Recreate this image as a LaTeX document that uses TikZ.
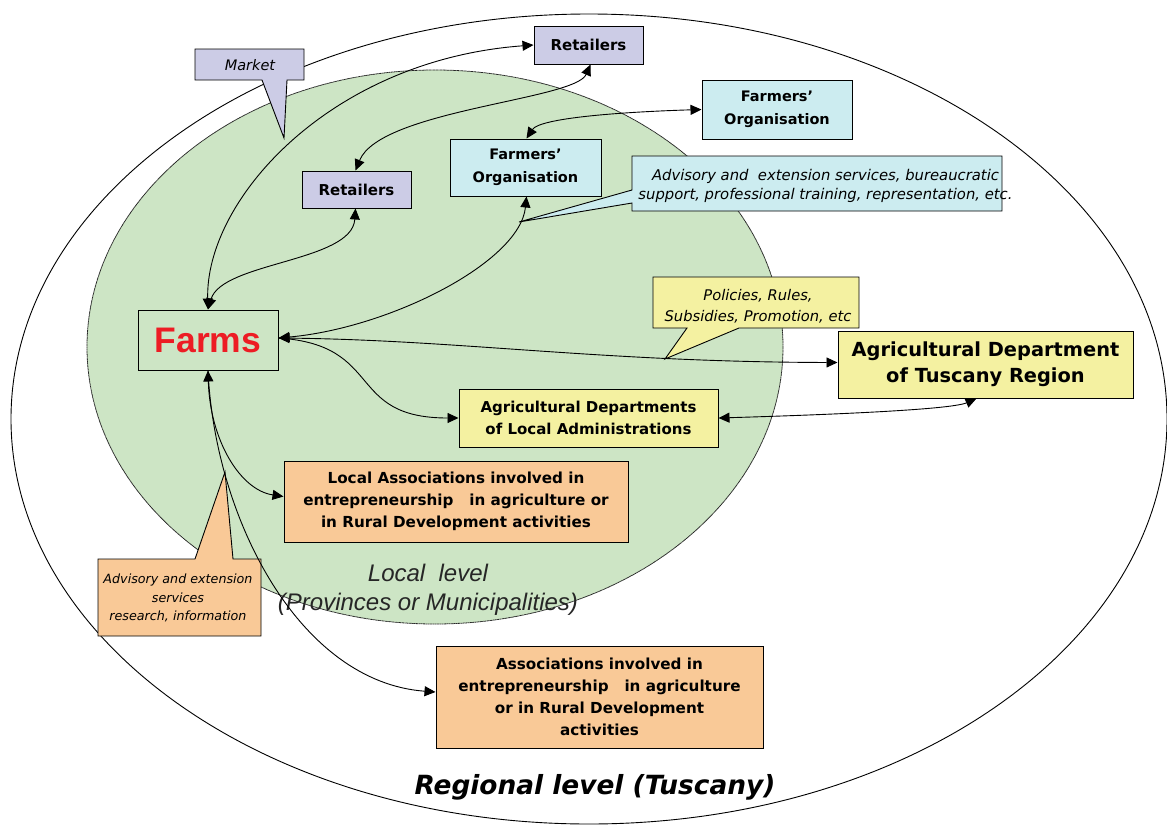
\documentclass[tikz,border=0pt]{standalone}
\usepackage{fontspec}
\setmainfont{DejaVu Sans}
\newfontfamily\arialfont{Liberation Sans}
\usetikzlibrary{arrows.meta}
\definecolor{lav}{RGB}{204,204,230}
\definecolor{cyanbox}{RGB}{204,236,240}
\definecolor{yel}{RGB}{244,241,161}
\definecolor{ora}{RGB}{249,201,151}
\definecolor{grn}{RGB}{205,229,197}
\definecolor{farmred}{RGB}{237,28,36}
\begin{document}
\begin{tikzpicture}[x=1pt,y=-1pt,
  box/.style={draw=black, line width=1pt, inner sep=0pt, align=center, font=\bfseries\fontsize{14.5}{23}\selectfont},
  callout/.style={draw=black, line width=0.9pt, line join=miter},
  ctext/.style={inner sep=0pt, align=center, font=\itshape\fontsize{14.8}{19.5}\selectfont},
  conn/.style={line width=0.9pt, >={Triangle[length=11pt,width=10pt]}}]
\useasboundingbox (0,0) rectangle (1167,827);
% ellipses
\draw[line width=0.9pt] (589,419) ellipse [x radius=578, y radius=405];
\fill[grn] (435,347) ellipse [x radius=348, y radius=277];
\draw[line width=0.8pt, black!85, dash pattern=on 1pt off 0.4pt] (435,347) ellipse [x radius=348, y radius=277];
% level labels
\node[font=\arialfont\itshape\fontsize{24}{29}\selectfont, align=center, text=black!85] (loclevel) at (428,590) {Local\ \ level\\(Provinces or Municipalities)};
\node[font=\bfseries\itshape\fontsize{26.4}{30}\selectfont] (reglevel) at (595,787) {Regional level (Tuscany)};
% boxes
\node[box, fill=lav, minimum width=109pt, minimum height=38pt, font=\bfseries\fontsize{15}{18}\selectfont] (ret1) at (588.5,45) {Retailers};
\node[box, fill=lav, minimum width=109pt, minimum height=37pt, font=\bfseries\fontsize{15}{18}\selectfont] (ret2) at (356.5,189.5) {Retailers};
\node[box, fill=cyanbox, minimum width=150pt, minimum height=59pt] (fo1) at (777,109.5) {Farmers’\\Organisation};
\node[box, fill=cyanbox, minimum width=151pt, minimum height=57pt] (fo2) at (525.5,167.5) {Farmers’\\Organisation};
\node[box, minimum width=140pt, minimum height=60pt, font=\arialfont\bfseries\fontsize{35.5}{40}\selectfont, text=farmred] (farms) at (208,340) {Farms};
\node[box, fill=yel, minimum width=295pt, minimum height=67pt, font=\bfseries\fontsize{19.4}{26}\selectfont] (tusc) at (985.5,364.5) {Agricultural Department\\of Tuscany Region};
\node[box, fill=yel, minimum width=259pt, minimum height=58pt, font=\bfseries\fontsize{15}{22}\selectfont] (locadm) at (588.5,418) {Agricultural Departments\\of Local Administrations};
\node[box, fill=ora, minimum width=344pt, minimum height=81pt, font=\bfseries\fontsize{15.2}{22}\selectfont] (locassoc) at (456,501.5) {Local Associations involved in\\entrepreneurship\ \ \ in agriculture or\\in Rural Development activities};
\node[box, fill=ora, minimum width=327pt, minimum height=102pt, font=\bfseries\fontsize{15.2}{22}\selectfont] (assoc) at (599.5,697) {Associations involved in\\entrepreneurship\ \ \ in agriculture\\or in Rural Development\\activities};
% callouts
\draw[callout, fill=lav] (195,49) -- (304,49) -- (304,80) -- (287,80) -- (284,138) -- (262,80) -- (195,80) -- cycle;
\node[ctext, font=\itshape\fontsize{14.5}{17}\selectfont] (market) at (250,65) {Market};
\draw[callout, fill=cyanbox] (632,156) -- (1002,156) -- (1002,211) -- (632,211) -- (632,203) -- (519,222) -- (632,190) -- cycle;
\node[ctext] (advtext) at (825.5,186) {Advisory and\ \ extension services, bureaucratic\\support, professional training, representation, etc.};
\draw[callout, fill=yel] (653,277) -- (859,277) -- (859,328) -- (739,328) -- (665,359) -- (687,328) -- (653,328) -- cycle;
\node[ctext, font=\itshape\fontsize{14.7}{21}\selectfont] (poltext) at (758,306) {Policies, Rules,\\Subsidies, Promotion, etc};
\draw[callout, fill=ora] (98,559) -- (195,559) -- (225,472) -- (233,559) -- (261,559) -- (261,636) -- (98,636) -- cycle;
\node[ctext, font=\itshape\fontsize{12.7}{18.5}\selectfont] (advtext2) at (178,598) {Advisory and extension\\services\\research, information};
% connectors
\draw[conn,<->] (farms.north) .. controls (205,200) and (330,60) .. (ret1.west);
\draw[conn,<->] (farms.north) .. controls (222,262) and (352,262) .. ([xshift=-1pt]ret2.south);
\draw[conn,<->] ([xshift=2pt]ret1.south) .. controls (575,100) and (380,110) .. ([xshift=-1pt]ret2.north);
\draw[conn,<->] ([xshift=1pt]fo2.north) .. controls (540,118) and (620,112) .. (fo1.west);
\draw[conn,<->] ([yshift=2pt]farms.east) .. controls (390,328) and (520,262) .. ([xshift=1pt]fo2.south);
\draw[conn,<->] ([yshift=2pt]farms.east) .. controls (460,340) and (600,362) .. ([yshift=2pt]tusc.west);
\draw[conn,->] ([yshift=2pt]farms.east) .. controls (385,345) and (345,418) .. (locadm.west);
\draw[conn,<->] (locadm.east) .. controls (820,415) and (950,410) .. ([xshift=-9pt]tusc.south);
\draw[conn,<->] (farms.south) .. controls (210,440) and (240,490) .. ([yshift=5pt]locassoc.west);
\draw[conn,->] (farms.south) .. controls (215,520) and (300,682) .. ([yshift=5pt]assoc.west);
\end{tikzpicture}
\end{document}
